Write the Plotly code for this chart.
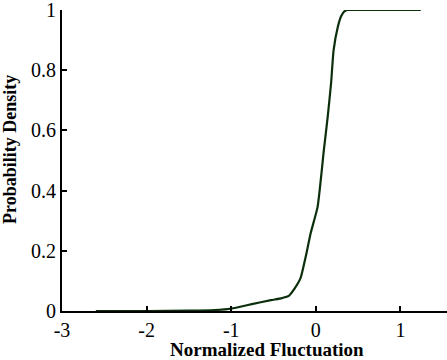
import plotly.graph_objects as go

x_vals = [-2.6, -2.0, -1.5, -1.2, -1.0, -0.77, -0.53, -0.4, -0.32, -0.25, -0.18, -0.12,
          -0.06, 0.02, 0.095, 0.14, 0.18, 0.21, 0.26, 0.3, 0.34, 0.37, 0.6, 1.0, 1.24]
y_vals = [0.0, 0.0, 0.001, 0.003, 0.008, 0.022, 0.036, 0.043, 0.05, 0.075, 0.11, 0.18,
          0.26, 0.345, 0.535, 0.645, 0.757, 0.867, 0.944, 0.98, 0.996, 1.0, 1.0, 1.0, 1.0]
x_ticks = [-3, -2, -1, 0, 1]
x_tick_labels = ["-3", "-2", "-1", "0", "1"]
y_ticks = [0, 0.2, 0.4, 0.6, 0.8, 1]
y_tick_labels = ["0", "0.2", "0.4", "0.6", "0.8", "1"]
x_title = "Normalized Fluctuation"
y_title = "Probability Density"

fig = go.Figure()
fig.add_trace(go.Scatter(x=x_vals, y=y_vals, mode="lines",
                         line=dict(color="#0b2e0b", width=2.2, shape="spline", smoothing=0.5),
                         showlegend=False, hoverinfo="skip", cliponaxis=False))

font_family = "Liberation Serif, Times New Roman, serif"
fig.update_layout(
    width=447, height=360,
    margin=dict(l=62, r=0, t=10, b=49),
    paper_bgcolor="white", plot_bgcolor="white",
    font=dict(family=font_family, color="black", size=20),
)
fig.update_xaxes(range=[-3, 1.55], tickvals=x_ticks, ticktext=x_tick_labels,
                 ticks="inside", ticklen=5, tickwidth=1.5, automargin=False,
                 ticklabeloverflow="allow",
                 tickcolor="black", showline=True, linecolor="black", linewidth=2,
                 showgrid=False, zeroline=False)
fig.update_yaxes(range=[0, 1], tickvals=y_ticks, ticktext=y_tick_labels,
                 ticks="inside", ticklen=5, tickwidth=1.5, automargin=False,
                 ticklabeloverflow="allow",
                 tickcolor="black", showline=True, linecolor="black", linewidth=2,
                 showgrid=False, zeroline=False)

fig.add_annotation(text=f"<b>{x_title}</b>", xref="paper", yref="paper", x=0.532, y=0,
                   yshift=-38, xanchor="center", yanchor="middle", showarrow=False,
                   font=dict(size=19))
fig.add_annotation(text=f"<b>{y_title}</b>", xref="paper", yref="paper", x=0, y=0.535,
                   xshift=-52, xanchor="center", yanchor="middle", textangle=-90,
                   showarrow=False, font=dict(size=18))

fig.write_html("out.html", config={"displayModeBar": False},
               post_script="document.body.style.margin='0';")
